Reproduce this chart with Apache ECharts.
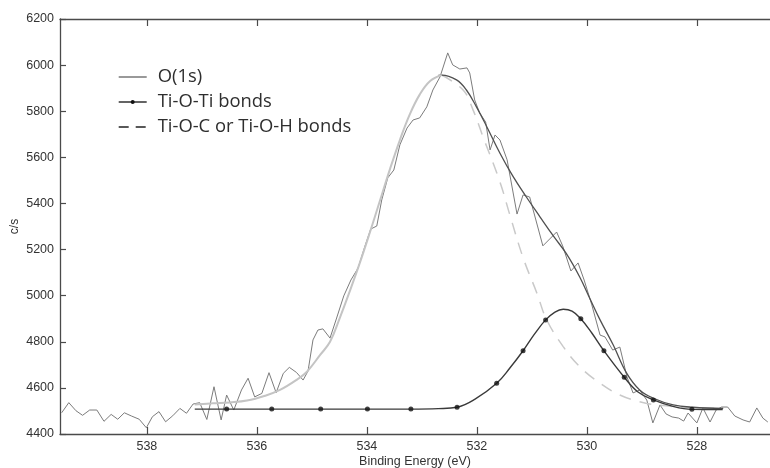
<!DOCTYPE html>
<html>
<head>
<meta charset="utf-8">
<script src="https://cdn.jsdelivr.net/npm/echarts@6/dist/echarts.min.js"></script>
<style>
  html, body { margin: 0; padding: 0; background: #fff; }
  #chart { width: 770px; height: 468px; }
</style>
</head>
<body>
<div id="chart"></div>
<script>
// O(1s) XPS spectrum: measured counts [binding energy eV, c/s]
const rawSpectrum = [
  [539.55,4492],[539.42,4536],[539.29,4501],[539.17,4481],[539.04,4504],[538.91,4504],
  [538.78,4455],[538.65,4485],[538.53,4464],[538.41,4492],[538.28,4478],[538.14,4464],
  [538.01,4427],[537.90,4475],[537.78,4497],[537.66,4453],[537.53,4479],[537.40,4511],
  [537.28,4490],[537.16,4530],[537.04,4536],[536.91,4463],[536.78,4605],[536.65,4461],
  [536.55,4569],[536.42,4504],[536.28,4591],[536.16,4642],[536.04,4561],[535.91,4576],
  [535.78,4666],[535.65,4579],[535.52,4663],[535.41,4689],[535.28,4667],[535.16,4634],
  [535.07,4673],[534.98,4808],[534.89,4851],[534.80,4856],[534.67,4816],[534.55,4903],
  [534.42,4999],[534.29,5068],[534.16,5120],[534.04,5211],[533.93,5289],[533.82,5302],
  [533.73,5415],[533.62,5511],[533.51,5545],[533.40,5654],[533.27,5727],[533.16,5762],
  [533.04,5771],[532.91,5819],[532.80,5892],[532.67,5949],[532.53,6053],[532.44,6001],
  [532.31,5983],[532.18,5988],[532.13,5966],[532.04,5849],[531.95,5793],[531.84,5753],
  [531.76,5632],[531.67,5697],[531.58,5675],[531.45,5589],[531.27,5354],[531.16,5437],
  [531.04,5428],[530.80,5216],[530.55,5276],[530.44,5216],[530.29,5107],[530.16,5142],
  [530.05,5068],[529.91,4960],[529.76,4829],[529.67,4821],[529.53,4764],[529.40,4777],
  [529.27,4647],[529.16,4578],[529.04,4591],[528.91,4547],[528.80,4448],[528.67,4526],
  [528.56,4487],[528.45,4474],[528.33,4469],[528.24,4456],[528.16,4491],[528.00,4448],
  [527.89,4513],[527.76,4452],[527.65,4504],[527.55,4517],[527.44,4517],[527.31,4478],
  [527.16,4461],[527.04,4452],[526.91,4513],[526.80,4469],[526.71,4452]
];

// Sum of the fitted components (high-energy side of the envelope)
const envelopeFit = [
  [532.70,5955],[532.64,5957],[532.37,5936],[532.19,5892],[532.01,5820],[531.82,5733],
  [531.58,5618],[531.34,5516],[531.10,5428],[530.85,5341],[530.61,5259],[530.37,5181],
  [530.13,5081],[529.95,4990],[529.76,4895],[529.52,4786],[529.28,4665],[529.04,4591],
  [528.79,4555],[528.43,4526],[528.07,4516],[527.52,4511]
];

// Ti-O-C / Ti-O-H component
const tiOCFit = [
  [537.13,4528],[536.80,4533],[536.49,4537],[536.18,4545],[535.85,4566],[535.58,4591],
  [535.27,4636],[535.09,4670],[534.85,4743],[534.67,4800],[534.49,4905],[534.31,5020],
  [534.13,5141],[533.95,5271],[533.76,5414],[533.58,5549],[533.40,5675],[533.22,5786],
  [533.04,5872],[532.85,5931],[532.64,5957],[532.25,5892],[532.07,5806],[531.89,5690],
  [531.58,5493],[531.40,5350],[531.16,5165],[530.91,5012],[530.73,4895],[530.43,4779],
  [530.13,4692],[529.76,4620],[529.40,4569],[529.04,4540],[528.73,4526],[528.13,4515],
  [527.53,4511]
];
const tiOCPeakEnergy = 532.64;

// Ti-O-Ti component curve and its marked points
const tiOTiFit = [
  [537.13,4508],[536.55,4508],[535.73,4508],[534.84,4508],[533.99,4508],[533.20,4508],
  [532.70,4510],[532.36,4516],[532.04,4550],[531.64,4620],[531.40,4686],[531.16,4761],
  [530.95,4834],[530.75,4895],[530.58,4929],[530.43,4941],[530.27,4933],[530.11,4900],
  [529.91,4838],[529.69,4761],[529.32,4646],[529.07,4582],[528.79,4548],[528.45,4521],
  [528.09,4507],[527.53,4506]
];
const tiOTiMarks = [
  [536.55,4508],[535.73,4508],[534.84,4508],[533.99,4508],[533.20,4508],[532.36,4516],
  [531.64,4620],[531.16,4761],[530.75,4895],[530.11,4900],[529.69,4761],[529.32,4646],
  [528.79,4548],[528.09,4507]
];

const energyTicks = [528, 530, 532, 534, 536, 538];
const energyRange = [526.67, 539.58];
const countRange = [4400, 6200];
const countStep = 200;

const names = ['O(1s)', 'Ti-O-Ti bonds', 'Ti-O-C or Ti-O-H bonds'];

// the Ti-O-C curve is solid where it carries the envelope, dashed beyond the peak
const tiOCLow = tiOCFit.filter(p => p[0] >= tiOCPeakEnergy);
const tiOCHigh = tiOCFit.filter(p => p[0] <= tiOCPeakEnergy);

const axisColor = '#4a4a4a';
const sansFont = 'Liberation Sans, Arial, sans-serif';
const labelFont = { color: '#333', fontSize: 12.5, fontFamily: sansFont };
const plain = v => String(v);

const chart = echarts.init(document.getElementById('chart'), null, { renderer: 'canvas' });
chart.setOption({
  animation: false,
  backgroundColor: '#fff',
  grid: { left: 60, right: 0, top: 19, bottom: 34, containLabel: false, outerBoundsMode: 'none' },
  legend: {
    orient: 'vertical',
    left: 118,
    top: 68,
    padding: 0,
    itemWidth: 28,
    itemHeight: 5,
    itemGap: 7,
    selectedMode: false,
    textStyle: { color: '#2e2e2e', fontSize: 18.4, fontFamily: 'Open Sans, sans-serif', padding: [0, 0, 0, 6] },
    data: [
      { name: names[0], lineStyle: { color: '#555', width: 1.2 }, itemStyle: { opacity: 0 } },
      { name: names[1], lineStyle: { color: '#222', width: 1.4 }, itemStyle: { color: '#111' } },
      { name: names[2], lineStyle: { color: '#222', width: 1.4, type: [10, 7] }, itemStyle: { opacity: 0 } }
    ]
  },
  xAxis: [
    {
      type: 'value', inverse: true, min: energyRange[0], max: energyRange[1],
      name: 'Binding Energy (eV)', nameLocation: 'middle', nameGap: 21, nameMoveOverlap: false,
      nameTextStyle: { color: '#333', fontSize: 12.5, fontFamily: sansFont },
      axisLine: { lineStyle: { color: axisColor, width: 1.3 } },
      axisTick: { inside: true, length: 7, customValues: energyTicks, lineStyle: { color: axisColor, width: 1.2 } },
      axisLabel: Object.assign({ customValues: energyTicks, margin: 6, formatter: plain }, labelFont),
      splitLine: { show: false }
    },
    {
      type: 'value', inverse: true, min: energyRange[0], max: energyRange[1], position: 'top',
      axisLine: { lineStyle: { color: axisColor, width: 1.3 } },
      axisTick: { inside: true, length: 7, customValues: energyTicks, lineStyle: { color: axisColor, width: 1.2 } },
      axisLabel: { show: false },
      splitLine: { show: false }
    }
  ],
  yAxis: {
    type: 'value', min: countRange[0], max: countRange[1], interval: countStep,
    name: 'c/s', nameLocation: 'middle', nameGap: 39, nameMoveOverlap: false,
    nameTextStyle: { color: '#333', fontSize: 12, fontFamily: sansFont },
    axisLine: { show: true, lineStyle: { color: axisColor, width: 1.3 } },
    axisTick: { show: true, inside: true, length: 6, lineStyle: { color: axisColor, width: 1.2 } },
    axisLabel: Object.assign({ margin: 6, formatter: plain }, labelFont),
    splitLine: { show: false }
  },
  series: [
    {
      name: names[0], type: 'line', data: rawSpectrum, symbol: 'none',
      lineStyle: { color: '#7c7c7c', width: 1 }, z: 2
    },
    {
      name: names[2], type: 'line', data: tiOCHigh, symbol: 'none', smooth: 0.4,
      lineStyle: { color: '#c9c9c9', width: 1.5, type: [12, 9] }, z: 3
    },
    {
      name: 'envelope', type: 'line', data: envelopeFit, symbol: 'none', smooth: 0.4,
      lineStyle: { color: '#505050', width: 1.3 }, z: 4
    },
    {
      name: 'Ti-O-C solid', type: 'line', data: tiOCLow, symbol: 'none', smooth: 0.4,
      lineStyle: { color: '#c4c4c4', width: 2 }, z: 5
    },
    {
      name: names[1], type: 'line', data: tiOTiFit, symbol: 'circle', symbolSize: 5, showSymbol: false,
      smooth: 0.4, lineStyle: { color: '#3a3a3a', width: 1.4 }, itemStyle: { color: '#111' }, z: 6
    },
    {
      name: names[1], type: 'scatter', data: tiOTiMarks, symbol: 'circle', symbolSize: 5,
      itemStyle: { color: '#111' }, z: 7
    }
  ]
});
</script>
</body>
</html>
